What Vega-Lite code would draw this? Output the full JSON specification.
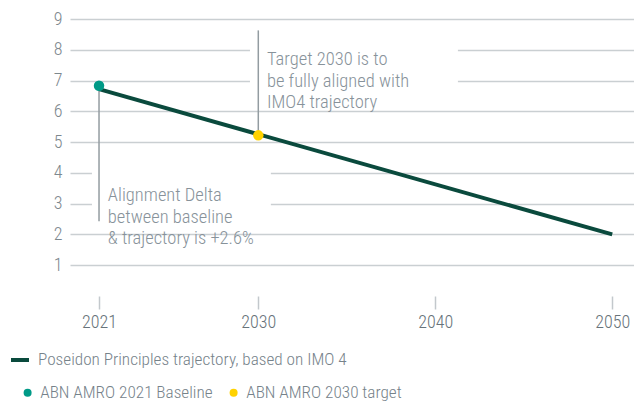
{
  "$schema": "https://vega.github.io/schema/vega-lite/v6.json",
  "width": 564,
  "height": 277,
  "autosize": {"type": "none"},
  "padding": {"left": 70, "top": 19, "right": 0, "bottom": 109},
  "background": "white",
  "config": {
    "font": "Roboto Condensed, DejaVu Sans Condensed, Roboto, sans-serif",
    "view": {"stroke": null},
    "axis": {"labelFontWeight": 300},
    "legend": {"labelFontSize": 17.2, "labelFontWeight": 300, "labelColor": "#76828a", "padding": 0, "labelLimit": 400}
  },
  "datasets": {
    "trajectory": [
      {"year": 2021, "v": 6.72, "series": "Poseidon Principles trajectory, based on IMO 4"},
      {"year": 2050, "v": 2.0, "series": "Poseidon Principles trajectory, based on IMO 4"}
    ],
    "points": [
      {"year": 2021, "v": 6.83, "pt": "ABN AMRO 2021 Baseline"},
      {"year": 2030, "v": 5.22, "pt": "ABN AMRO 2030 target"}
    ],
    "callouts": [
      {"year": 2021, "v": 6.83, "v2": 2.43, "year_box": 2020.6, "year_box2": 2030.71, "box_lo": 2.3, "box_hi": 4.5, "text_year": 2021.5, "text_v": 3.27, "label": "Alignment Delta\nbetween baseline\n& trajectory is +2.6%"},
      {"year": 2030, "v": 5.22, "v2": 8.63, "year_box": 2029.53, "year_box2": 2041.28, "box_lo": 6.6, "box_hi": 8.8, "text_year": 2030.49, "text_v": 7.69, "label": "Target 2030 is to\nbe fully aligned with\nIMO4 trajectory"}
    ]
  },
  "encoding": {
    "x": {
      "field": "year", "type": "quantitative",
      "scale": {"domain": [2019.36, 2051.23], "nice": false, "zero": false},
      "axis": {
        "title": null, "values": [2021, 2030, 2040, 2050], "format": "d",
        "grid": false, "domain": false, "tickSize": 13, "tickColor": "#c3c8cc", "tickWidth": 1.5,
        "labelFontSize": 18, "labelColor": "#67737a", "labelPadding": 4
      }
    },
    "y": {
      "field": "v", "type": "quantitative",
      "scale": {"domain": [0, 9], "nice": false},
      "axis": {
        "title": null, "values": [1, 2, 3, 4, 5, 6, 7, 8, 9],
        "grid": true, "gridColor": "#cacfd2", "gridWidth": 1.5,
        "domain": false, "ticks": false, "labelPadding": 8,
        "labelFontSize": 18, "labelColor": "#7d888e"
      }
    }
  },
  "layer": [
    {
      "data": {"name": "callouts"},
      "mark": {"type": "rect", "fill": "white"},
      "encoding": {
        "x": {"field": "year_box", "type": "quantitative"},
        "x2": {"field": "year_box2"},
        "y": {"field": "box_lo", "type": "quantitative"},
        "y2": {"field": "box_hi"}
      }
    },
    {
      "data": {"values": [{"b": 0}]},
      "mark": {"type": "rule", "color": "#0f9a8a", "strokeWidth": 2},
      "encoding": {
        "x": {"datum": 2016.25, "type": "quantitative"},
        "x2": {"datum": 2051.23},
        "y": {"datum": 0, "type": "quantitative"}
      }
    },
    {
      "data": {"name": "callouts"},
      "mark": {"type": "rule", "color": "#939ca1", "strokeWidth": 1.5},
      "encoding": {
        "y2": {"field": "v2"}
      }
    },
    {
      "data": {"name": "callouts"},
      "mark": {"type": "text", "align": "left", "baseline": "middle", "lineBreak": "\n", "lineHeight": 21.5, "fontSize": 18.5, "fontWeight": 300, "color": "#87929a"},
      "encoding": {
        "x": {"field": "text_year", "type": "quantitative"},
        "y": {"field": "text_v", "type": "quantitative"},
        "text": {"field": "label"}
      }
    },
    {
      "data": {"name": "trajectory"},
      "mark": {"type": "line", "strokeWidth": 4},
      "encoding": {
        "stroke": {
          "field": "series", "type": "nominal",
          "scale": {"range": ["#0a4a3d"]},
          "legend": {"title": null, "orient": "none", "legendX": -61, "legendY": 330, "symbolType": "stroke", "symbolSize": 324, "symbolStrokeWidth": 4, "labelOffset": 7}
        }
      }
    },
    {
      "data": {"name": "points"},
      "mark": {"type": "circle", "size": 110, "opacity": 1},
      "encoding": {
        "fill": {
          "field": "pt", "type": "nominal",
          "scale": {"domain": ["ABN AMRO 2021 Baseline", "ABN AMRO 2030 target"], "range": ["#009a87", "#ffd200"]},
          "legend": {"title": null, "orient": "none", "legendX": -51, "legendY": 365, "direction": "horizontal", "columns": 2, "columnPadding": 12, "symbolType": "circle", "symbolSize": 64, "symbolStrokeWidth": 0, "labelOffset": 4}
        }
      }
    }
  ]
}
